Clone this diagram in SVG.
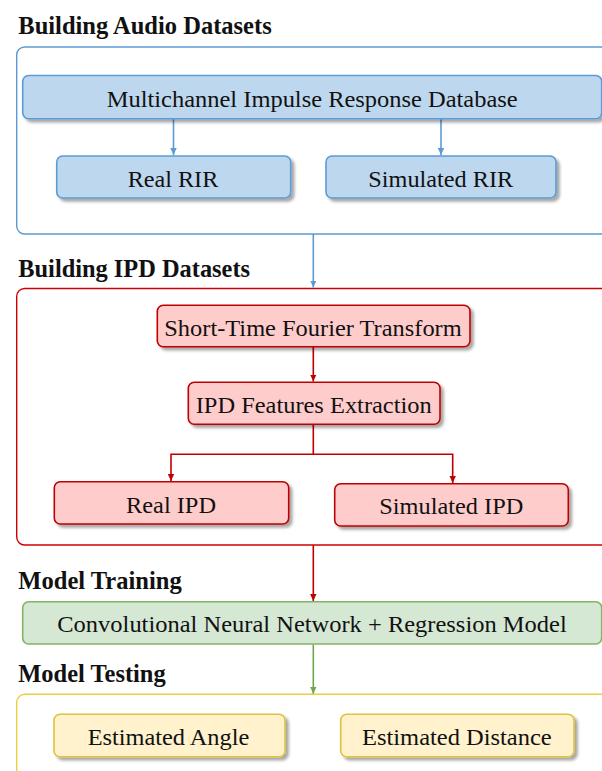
<svg xmlns="http://www.w3.org/2000/svg" width="602" height="771" viewBox="0 0 602 771">
  <style>
    text { font-family: "Liberation Serif", "Times New Roman", Times, serif; fill: #111; }
    .title { font-weight: bold; font-size: 24.4px; }
    .label { font-size: 24px; }
    .frame { fill: #fff; stroke-width: 1.4; }
    .node { stroke-width: 1.6; }
    .blue { fill: #BDD7EE; stroke: #5B9BD5; }
    .red { fill: #FFCCCC; stroke: #C00000; }
    .green { fill: #D5E8D4; stroke: #82B366; }
    .yellow { fill: #FFF2CC; stroke: #E0C040; }
    .edge { fill: none; stroke-width: 1.6; }
  </style>
  <defs>
    <filter id="shadow" x="-5%" y="-10%" width="115%" height="140%">
      <feGaussianBlur in="SourceAlpha" stdDeviation="1.6"/>
      <feOffset dx="2.5" dy="3" result="blur"/>
      <feComponentTransfer><feFuncA type="linear" slope="0.35"/></feComponentTransfer>
      <feMerge><feMergeNode/><feMergeNode in="SourceGraphic"/></feMerge>
    </filter>
    <marker id="ahBlue" markerWidth="8" markerHeight="8" refX="7" refY="4" orient="auto" markerUnits="userSpaceOnUse">
      <path d="M0,0.8 L7,4 L0,7.2 Z" fill="#5B9BD5"/>
    </marker>
    <marker id="ahRed" markerWidth="8" markerHeight="8" refX="7" refY="4" orient="auto" markerUnits="userSpaceOnUse">
      <path d="M0,0.8 L7,4 L0,7.2 Z" fill="#C00000"/>
    </marker>
    <marker id="ahGreen" markerWidth="8" markerHeight="8" refX="7" refY="4" orient="auto" markerUnits="userSpaceOnUse">
      <path d="M0,0.8 L7,4 L0,7.2 Z" fill="#6AA84F"/>
    </marker>
  </defs>

  <rect width="602" height="771" fill="#fff"/>

  <!-- section frames and headings -->
  <g id="section-audio">
    <text class="title" x="18.3" y="34.3" textLength="253.4" lengthAdjust="spacingAndGlyphs">Building Audio Datasets</text>
    <rect class="frame" x="16.7" y="47" width="600" height="187" rx="8" stroke="#5B9BD5"/>
  </g>
  <g id="section-ipd">
    <text class="title" x="18.3" y="276.5" textLength="231.7" lengthAdjust="spacingAndGlyphs">Building IPD Datasets</text>
    <rect class="frame" x="16.7" y="288.5" width="600" height="256.5" rx="8" stroke="#D00000"/>
  </g>
  <g id="section-training">
    <text class="title" x="18.3" y="589.3" textLength="163.4" lengthAdjust="spacingAndGlyphs">Model Training</text>
  </g>
  <g id="section-testing">
    <text class="title" x="18.3" y="682.3" textLength="147.4" lengthAdjust="spacingAndGlyphs">Model Testing</text>
    <rect class="frame" x="16.7" y="694.3" width="600" height="100" rx="8" stroke="#E8D040"/>
  </g>

  <!-- connectors -->
  <g id="connectors">
    <line class="edge" x1="173.5" y1="119" x2="173.5" y2="155" stroke="#5B9BD5" marker-end="url(#ahBlue)"/>
    <line class="edge" x1="441" y1="119" x2="441" y2="155" stroke="#5B9BD5" marker-end="url(#ahBlue)"/>
    <line class="edge" x1="313.3" y1="234" x2="313.3" y2="287.5" stroke="#5B9BD5" marker-end="url(#ahBlue)"/>
    <line class="edge" x1="313.3" y1="347" x2="313.3" y2="381.5" stroke="#C00000" marker-end="url(#ahRed)"/>
    <polyline class="edge" points="313.3,424.5 313.3,454.3 171,454.3 171,481" stroke="#C00000" marker-end="url(#ahRed)"/>
    <polyline class="edge" points="313.3,454.3 452.7,454.3 452.7,483" stroke="#C00000" marker-end="url(#ahRed)"/>
    <line class="edge" x1="313.3" y1="545" x2="313.3" y2="601" stroke="#C00000" marker-end="url(#ahRed)"/>
    <line class="edge" x1="313.3" y1="644.5" x2="313.3" y2="693.8" stroke="#6AA84F" marker-end="url(#ahGreen)"/>
  </g>

  <!-- nodes -->
  <g id="mird">
    <rect class="node blue" x="22.7" y="75.5" width="579" height="43.2" rx="6" filter="url(#shadow)"/>
    <text class="label" x="106.7" y="106.5" textLength="411" lengthAdjust="spacingAndGlyphs">Multichannel Impulse Response Database</text>
  </g>
  <g id="real-rir">
    <rect class="node blue" x="56.7" y="156" width="234" height="42" rx="6" filter="url(#shadow)"/>
    <text class="label" x="127.7" y="186.5" textLength="90.6" lengthAdjust="spacingAndGlyphs">Real RIR</text>
  </g>
  <g id="simulated-rir">
    <rect class="node blue" x="326" y="156" width="230" height="42" rx="6" filter="url(#shadow)"/>
    <text class="label" x="368.3" y="186.5" textLength="145" lengthAdjust="spacingAndGlyphs">Simulated RIR</text>
  </g>
  <g id="stft">
    <rect class="node red" x="157.3" y="305.3" width="312.7" height="41.4" rx="6" filter="url(#shadow)"/>
    <text class="label" x="164.3" y="335.5" textLength="297.4" lengthAdjust="spacingAndGlyphs">Short-Time Fourier Transform</text>
  </g>
  <g id="ipd-extraction">
    <rect class="node red" x="188.3" y="382.3" width="251.7" height="42" rx="6" filter="url(#shadow)"/>
    <text class="label" x="195.7" y="412.5" textLength="236" lengthAdjust="spacingAndGlyphs">IPD Features Extraction</text>
  </g>
  <g id="real-ipd">
    <rect class="node red" x="54.3" y="481.7" width="234.4" height="42.3" rx="6" filter="url(#shadow)"/>
    <text class="label" x="126" y="512.5" textLength="90" lengthAdjust="spacingAndGlyphs">Real IPD</text>
  </g>
  <g id="simulated-ipd">
    <rect class="node red" x="334.7" y="483.7" width="233.6" height="42.3" rx="6" filter="url(#shadow)"/>
    <text class="label" x="379.3" y="514.3" textLength="144" lengthAdjust="spacingAndGlyphs">Simulated IPD</text>
  </g>
  <g id="cnn-regression">
    <rect class="node green" x="22.7" y="601.7" width="579" height="42.3" rx="6"/>
    <text class="label" x="57.3" y="631.7" textLength="509.4" lengthAdjust="spacingAndGlyphs">Convolutional Neural Network + Regression Model</text>
  </g>
  <g id="estimated-angle">
    <rect class="node yellow" x="54" y="714.3" width="231" height="42.4" rx="6" filter="url(#shadow)"/>
    <text class="label" x="87.7" y="745" textLength="161.6" lengthAdjust="spacingAndGlyphs">Estimated Angle</text>
  </g>
  <g id="estimated-distance">
    <rect class="node yellow" x="340.7" y="714.3" width="233.3" height="42.4" rx="6" filter="url(#shadow)"/>
    <text class="label" x="362" y="745" textLength="189.7" lengthAdjust="spacingAndGlyphs">Estimated Distance</text>
  </g>
</svg>
